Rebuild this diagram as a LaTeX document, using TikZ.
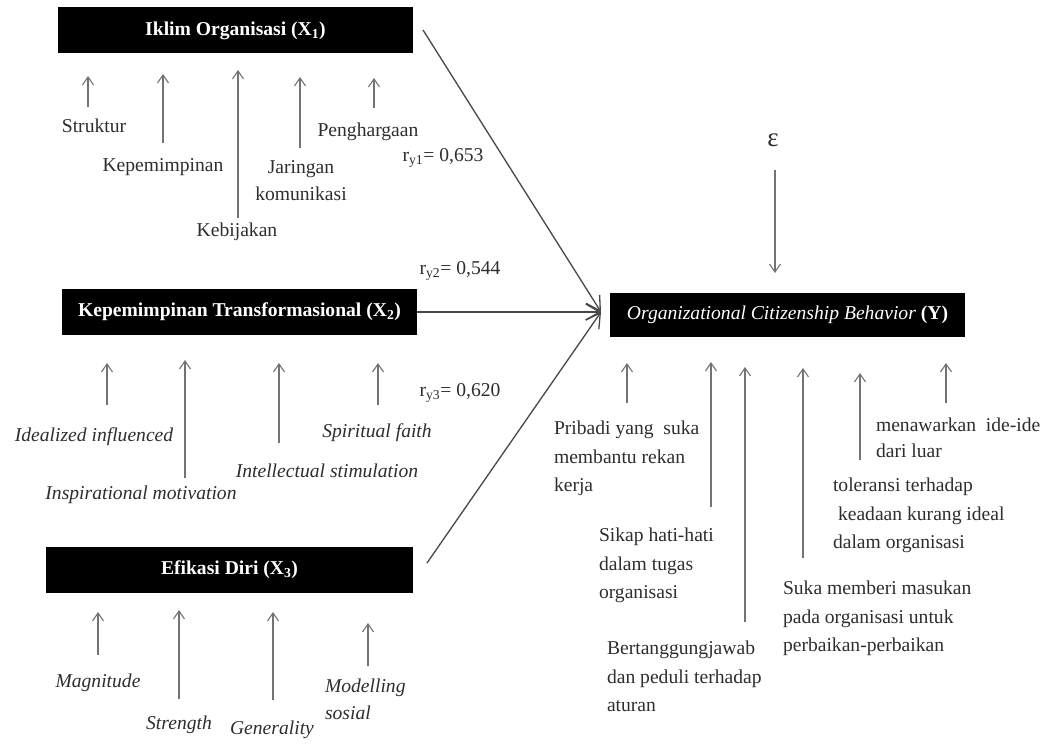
\documentclass[tikz,border=0pt]{standalone}
\usepackage{fontspec}
\setmainfont{Liberation Serif}
\usetikzlibrary{arrows.meta}

\begin{document}
\begin{tikzpicture}[x=1pt,y=-1pt,
  every node/.style={inner sep=0pt, outer sep=0pt, text=black!82,
    font=\fontsize{19.6}{28.5}\selectfont},
  one/.style={text height=13.5pt, text depth=4pt},
  multi/.style={align=left, anchor=north west},
  varbox/.style={fill=black, text=white, minimum height=46pt,
    font=\fontsize{19.6}{23}\selectfont\bfseries},
  ind/.style={draw=black!55, line width=1.1pt,
    -{Straight Barb[length=8pt,width=11pt,line width=1.1pt]}},
  link/.style={draw=black!72, line width=1.3pt,
    -{Straight Barb[length=14pt,width=16pt,line width=1.3pt]}},
]
\fill[white] (0,0) rectangle (1043,746);
\useasboundingbox (0,0) rectangle (1043,746);

% ---------------- variable boxes ----------------
\node[varbox, minimum width=355pt] (x1) at (235.5,30.5) {Iklim Organisasi (X\textsubscript{1})};
\node[varbox, minimum width=355pt] (x2) at (239.5,312) {Kepemimpinan Transformasional (X\textsubscript{2})};
\node[varbox, minimum width=367pt] (x3) at (229.5,570) {Efikasi Diri (X\textsubscript{3})};
\node[varbox, minimum width=355pt, minimum height=44pt, font=\fontsize{19.6}{23}\selectfont]
  (y) at (787.5,315) {\textit{Organizational Citizenship Behavior} \textbf{(Y)}};

% ---------------- paths to Y ----------------
\coordinate (hub) at (601,312);
\coordinate (x1out) at (423,30);
\coordinate (x3out) at (427,563);
\draw[link] (x1out) -- (hub);
\draw[link] (x2.east) -- (hub);
\draw[link] (x3out) -- (hub);

\node[one] (r1) at (443,157) {r\textsubscript{y1}= 0,653};
\node[one] (r2) at (460,270) {r\textsubscript{y2}= 0,544};
\node[one] (r3) at (460,392) {r\textsubscript{y3}= 0,620};

% residual
\node[font=\fontsize{27}{30}\selectfont] (eps) at (773,140) {ε};
\coordinate (epstail) at (775,170);
\coordinate (epshead) at (775,273);
\draw[ind] (epstail) -- (epshead);

% ---------------- indicator arrows (name/x/head/tail) ----------------
\foreach \n/\x/\h/\t in {
  io1/88/76/107, io2/163/74/143, io3/238/70/218, io4/300/77/148, io5/374/78/108,
  kt1/107/363/405, kt2/185/360/478, kt3/279/363/443, kt4/378/363/405,
  ed1/98/612/655, ed2/179/610/699, ed3/273/612/700, ed4/368/623/666,
  oc1/627/363/403, oc2/711/362/507, oc3/745/367/622, oc4/803/368/558,
  oc5/860/373/460, oc6/946/363/403}
{
  \coordinate (\n-tail) at (\x,\t);
  \coordinate (\n-head) at (\x,\h);
  \draw[ind] (\n-tail) -- (\n-head);
}

% ---------------- indicators of X1 ----------------
\node[one] (io1l) at (94,128) {Struktur};
\node[one] (io2l) at (163,167) {Kepemimpinan};
\node[one] (io3l) at (237,232) {Kebijakan};
\node[align=center, anchor=north, font=\fontsize{19.6}{27}\selectfont] (io4l) at (301,161) {Jaringan\\komunikasi};
\node[one] (io5l) at (368,132) {Penghargaan};

% ---------------- indicators of X2 ----------------
\node[one, font=\fontsize{19.6}{28.5}\selectfont\itshape] (kt1l) at (94,437) {Idealized influenced};
\node[one, font=\fontsize{19.6}{28.5}\selectfont\itshape] (kt2l) at (141,495) {Inspirational motivation};
\node[one, font=\fontsize{19.6}{28.5}\selectfont\itshape] (kt3l) at (327,473) {Intellectual stimulation};
\node[one, font=\fontsize{19.6}{28.5}\selectfont\itshape] (kt4l) at (377,433) {Spiritual faith};

% ---------------- indicators of X3 ----------------
\node[one, font=\fontsize{19.6}{28.5}\selectfont\itshape] (ed1l) at (98,683) {Magnitude};
\node[one, font=\fontsize{19.6}{28.5}\selectfont\itshape] (ed2l) at (179,725) {Strength};
\node[one, font=\fontsize{19.6}{28.5}\selectfont\itshape] (ed3l) at (272,730) {Generality};
\node[multi, font=\fontsize{19.6}{27}\selectfont\itshape] (ed4l) at (325,679) {Modelling\\sosial};

% ---------------- indicators of Y ----------------
\node[multi] (oc1l) at (554,421) {Pribadi yang\ \ suka\\membantu rekan\\kerja};
\node[multi] (oc2l) at (599,528) {Sikap hati-hati\\dalam tugas\\organisasi};
\node[multi] (oc3l) at (607,641) {Bertanggungjawab\\dan peduli terhadap\\aturan};
\node[multi] (oc4l) at (783,581) {Suka memberi masukan\\pada organisasi untuk\\perbaikan-perbaikan};
\node[multi] (oc5l) at (833,478) {toleransi terhadap\\\hspace*{5pt}keadaan kurang ideal\\dalam organisasi};
\node[multi, font=\fontsize{19.6}{26}\selectfont] (oc6l) at (876,418) {menawarkan\ \ ide-ide\\dari luar};
\end{tikzpicture}
\end{document}
